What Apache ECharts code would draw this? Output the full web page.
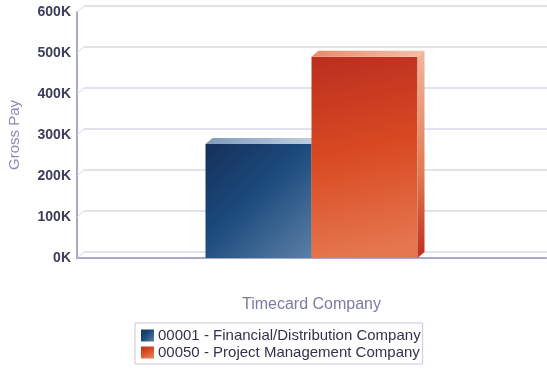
<!DOCTYPE html>
<html>
<head>
<meta charset="utf-8">
<script src="https://cdn.jsdelivr.net/npm/echarts@6/dist/echarts.min.js"></script>
<style>
  html, body { margin: 0; padding: 0; background: #ffffff; }
  #chart { width: 547px; height: 368px; }
</style>
</head>
<body>
<div id="chart"></div>
<script>
// Gross pay by timecard company
const categories = ['Timecard Company'];
const companies = ['00001 - Financial/Distribution Company', '00050 - Project Management Company'];
const grossPay = [278000, 491000];
const yTicks = [0, 100000, 200000, 300000, 400000, 500000, 600000];

// depth of the pseudo-3D box
const DX = 7, DY = -6;
const BAR_W = 106;

const chart = echarts.init(document.getElementById('chart'));

const frontColors = [
  new echarts.graphic.LinearGradient(0, 0, 1, 1, [
    { offset: 0, color: '#16305a' },
    { offset: 0.45, color: '#1b4a7c' },
    { offset: 1, color: '#5c80a6' }
  ]),
  new echarts.graphic.LinearGradient(0, 0, 0.4, 1, [
    { offset: 0, color: '#bb2e20' },
    { offset: 0.5, color: '#d94a22' },
    { offset: 1, color: '#e5774f' }
  ])
];
const topColors = [
  new echarts.graphic.LinearGradient(0, 0, 1, 0, [
    { offset: 0, color: '#7f9bbb' },
    { offset: 1, color: '#c3d1e2' }
  ]),
  new echarts.graphic.LinearGradient(0, 0, 1, 0, [
    { offset: 0, color: '#e88a6a' },
    { offset: 1, color: '#f6c0a8' }
  ])
];
const sideColors = [
  new echarts.graphic.LinearGradient(0, 0, 0, 1, [
    { offset: 0, color: '#8fa8c4' },
    { offset: 1, color: '#1a3a66' }
  ]),
  new echarts.graphic.LinearGradient(0, 0, 0, 1, [
    { offset: 0, color: '#f2b69c' },
    { offset: 0.6, color: '#e07850' },
    { offset: 1, color: '#c02e1c' }
  ])
];

// top and side faces of each bar
function boxFaces(idx) {
  return function (params, api) {
    const cx = api.coord([0, 0])[0];
    const yTop = api.coord([0, api.value(1)])[1];
    const yBase = api.coord([0, 0])[1];
    const x0 = idx === 0 ? cx - BAR_W : cx;
    const x1 = x0 + BAR_W;
    return {
      type: 'group',
      children: [
        {
          type: 'polygon',
          shape: { points: [[x0, yTop], [x0 + DX, yTop + DY], [x1 + DX, yTop + DY], [x1, yTop]] },
          style: { fill: topColors[idx] }
        },
        {
          type: 'polygon',
          shape: { points: [[x1, yTop], [x1 + DX, yTop + DY], [x1 + DX, yBase + DY], [x1, yBase]] },
          style: { fill: sideColors[idx] }
        }
      ]
    };
  };
}

// short diagonal joining the front axis to each back-wall gridline
function tickConnector(params, api) {
  const p = api.coord([0, api.value(0)]);
  const x = params.coordSys.x;
  return {
    type: 'line',
    shape: { x1: x, y1: p[1], x2: x + DX, y2: p[1] + DY },
    style: { stroke: '#d8d8e8', lineWidth: 1 }
  };
}

const option = {
  animation: false,
  backgroundColor: '#ffffff',
  textStyle: { fontFamily: 'Liberation Sans, Arial, sans-serif' },
  grid: [
    { left: 77, top: 12, width: 469, height: 246, outerBoundsMode: 'none', containLabel: false },
    { left: 77 + DX, top: 12 + DY, width: 469, height: 246, outerBoundsMode: 'none', containLabel: false }
  ],
  xAxis: [
    {
      type: 'category', gridIndex: 0, data: categories,
      name: 'Timecard Company', nameLocation: 'middle', nameGap: 39,
      nameTextStyle: { color: '#7a7aa8', fontSize: 16 },
      axisLine: { lineStyle: { color: '#a8a8c8', width: 2 } },
      axisTick: { show: false }, axisLabel: { show: false }
    },
    {
      type: 'category', gridIndex: 1, data: categories,
      axisLine: { show: false }, axisTick: { show: false }, axisLabel: { show: false }
    }
  ],
  yAxis: [
    {
      type: 'value', gridIndex: 0, min: 0, max: 600000, interval: 100000,
      name: 'Gross Pay', nameLocation: 'middle', nameGap: 55, nameRotate: 90,
      nameTextStyle: { color: '#8a8ab8', fontSize: 15 },
      axisLine: { show: true, lineStyle: { color: '#a8a8c8', width: 2 } },
      axisTick: { show: false },
      splitLine: { show: false },
      axisLabel: {
        color: '#3c3c5c', fontSize: 14, fontWeight: 'bold', margin: 6,
        formatter: v => (v / 1000) + 'K'
      }
    },
    {
      type: 'value', gridIndex: 1, min: 0, max: 600000, interval: 100000,
      axisLine: { show: false }, axisTick: { show: false }, axisLabel: { show: false },
      splitLine: { show: true, lineStyle: { color: '#d8d8e8', width: 1.5 } }
    }
  ],
  legend: {
    orient: 'vertical', left: 135, top: 323,
    data: companies,
    itemWidth: 13, itemHeight: 12, itemGap: 2,
    icon: 'rect',
    padding: [5, 2, 4, 6],
    borderColor: '#c8c8dc', borderWidth: 1, borderRadius: 0,
    textStyle: { color: '#33334f', fontSize: 15, padding: [0, 0, 0, -1] },
    selectedMode: false
  },
  series: [
    {
      type: 'custom', xAxisIndex: 0, yAxisIndex: 0, silent: true, z: 1,
      data: yTicks.map(v => [v]),
      encode: { y: 0 },
      renderItem: tickConnector
    },
    {
      type: 'custom', xAxisIndex: 0, yAxisIndex: 0, silent: true, z: 2,
      data: [[0, grossPay[0]]],
      renderItem: boxFaces(0)
    },
    {
      name: companies[0], type: 'bar', xAxisIndex: 0, yAxisIndex: 0, z: 3,
      barWidth: BAR_W, barGap: '0%',
      itemStyle: { color: frontColors[0] },
      data: [grossPay[0]]
    },
    {
      name: companies[1], type: 'bar', xAxisIndex: 0, yAxisIndex: 0, z: 3,
      barWidth: BAR_W, barGap: '0%',
      itemStyle: { color: frontColors[1] },
      data: [grossPay[1]]
    },
    {
      type: 'custom', xAxisIndex: 0, yAxisIndex: 0, silent: true, z: 4,
      data: [[0, grossPay[1]]],
      renderItem: boxFaces(1)
    }
  ]
};

chart.setOption(option);
</script>
</body>
</html>
